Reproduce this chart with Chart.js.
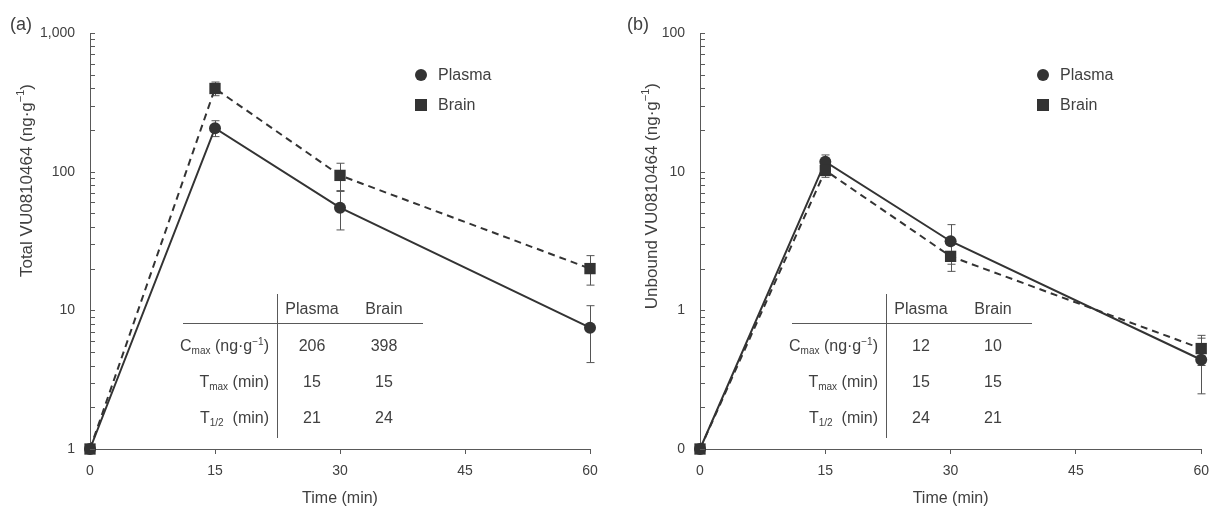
<!DOCTYPE html>
<html>
<head>
<meta charset="utf-8">
<script src="https://cdn.jsdelivr.net/npm/chart.js@4.4.1/dist/chart.umd.min.js"></script>
<style>
  body { margin: 0; background: #fff; font-family: "Liberation Sans", Arial, sans-serif; color: #404040; }
  #wrap { position: relative; width: 1218px; height: 508px; overflow: hidden; }
  .panel { position: absolute; top: 0; width: 609px; height: 508px; }
  .panel canvas { position: absolute; left: 0; top: 0; }
  .abs { position: absolute; white-space: nowrap; }
  .tag { font-size: 18px; line-height: 22px; }
  .ytitle { font-size: 17px; line-height: 20px; width: 20px; writing-mode: vertical-rl; transform: rotate(180deg); }
  .cell { font-size: 16px; line-height: 20px; height: 20px; }
  .cell sub, .cell sup { font-size: 10px; line-height: 0; }
  .cell sub { vertical-align: -3px; }
  .cell sup { vertical-align: 6px; }
  .hline { border-top: 1.5px solid #595959; height: 0; }
  .vline { border-left: 1.5px solid #595959; width: 0; }
  .lg { font-size: 16px; line-height: 20px; height: 20px; }
  .mk { position: absolute; width: 12px; height: 12px; background: #333; }
</style>
</head>
<body>
<div id="wrap">
  <div class="panel" id="panelA" style="left:0px"><canvas id="totalChart" width="609" height="508"></canvas></div>
  <div class="panel" id="panelB" style="left:609px"><canvas id="unboundChart" width="609" height="508"></canvas></div>
</div>
<script>
// time points (min)
const times = [0, 15, 30, 60];
const timeTicks = [0, 15, 30, 45, 60];

// (a) total concentrations, ng/g
const totalPlasma = [1, 206, 55, 7.5];
const totalPlasmaSd = [0, 27, 17, 3.3];
const totalBrain = [1, 398, 94, 20];
const totalBrainSd = [0, 45, 21, 4.8];
const totalTicks = [1, 10, 100, 1000];
const totalTickLabels = ["1", "10", "100", "1,000"];

// (b) unbound concentrations, ng/g
const unboundPlasma = [0.1, 11.8, 3.15, 0.44];
const unboundPlasmaSd = [0, 1.4, 1.0, 0.19];
const unboundBrain = [0.1, 10.2, 2.45, 0.53];
const unboundBrainSd = [0, 1.1, 0.54, 0.13];
const unboundTicks = [0.1, 1, 10, 100];
const unboundTickLabels = ["0", "1", "10", "100"];

// PK summary tables
const pkRows = ["C<sub>max</sub> (ng·g<sup>−1</sup>)", "T<sub>max</sub> (min)", "T<sub>1/2</sub>&nbsp; (min)"];
const totalPlasmaPk = [206, 15, 21];
const totalBrainPk = [398, 15, 24];
const unboundPlasmaPk = [12, 15, 24];
const unboundBrainPk = [10, 15, 21];

const textColor = "#404040";
const axisColor = "#595959";
const seriesColor = "#333333";

Chart.defaults.font.family = '"Liberation Sans", Arial, sans-serif';
Chart.defaults.color = textColor;

function pts(values) {
  return times.map((t, i) => ({ x: t, y: values[i] }));
}

// error bars, drawn under the markers
const errorBars = {
  id: "errorBars",
  beforeDatasetsDraw(chart) {
    const ctx = chart.ctx;
    const y = chart.scales.y;
    ctx.save();
    ctx.strokeStyle = "#555";
    ctx.lineWidth = 1;
    chart.data.datasets.forEach((ds, i) => {
      if (!ds.errors) return;
      const meta = chart.getDatasetMeta(i);
      ds.errors.forEach((e, j) => {
        if (!e) return;
        const v = ds.data[j].y;
        const px = Math.round(meta.data[j].x) + 0.5;
        const top = y.getPixelForValue(v + e);
        const bot = y.getPixelForValue(Math.max(v - e, y.min));
        ctx.beginPath();
        ctx.moveTo(px, top); ctx.lineTo(px, bot);
        ctx.moveTo(px - 4, top); ctx.lineTo(px + 4, top);
        ctx.moveTo(px - 4, bot); ctx.lineTo(px + 4, bot);
        ctx.stroke();
      });
    });
    ctx.restore();
  }
};

// inward log ticks on the y axis
const logTicks = {
  id: "logTicks",
  afterDraw(chart) {
    const ctx = chart.ctx;
    const y = chart.scales.y;
    const x0 = chart.chartArea.left;
    ctx.save();
    ctx.strokeStyle = axisColor;
    ctx.lineWidth = 1;
    ctx.beginPath();
    for (let d = y.min; d < y.max * 1.001; d *= 10) {
      for (let k = 1; k <= 9; k++) {
        const v = d * k;
        if (v > y.max * 1.001) break;
        const py = Math.round(y.getPixelForValue(v)) + 0.5;
        ctx.moveTo(x0, py);
        ctx.lineTo(x0 + 5, py);
      }
    }
    ctx.stroke();
    ctx.restore();
  }
};

function makeChart(id, plasma, plasmaSd, brain, brainSd, yMin, yMax, yTicks, yLabels, axisWidth, padRight) {
  return new Chart(document.getElementById(id), {
    type: "line",
    data: {
      datasets: [
        {
          label: "Plasma",
          data: pts(plasma),
          errors: plasmaSd,
          borderColor: seriesColor,
          backgroundColor: seriesColor,
          borderWidth: 2,
          pointStyle: "circle",
          pointRadius: 6,
          pointBorderWidth: 0,
          pointBackgroundColor: seriesColor,
          clip: false,
          order: 1,
        },
        {
          label: "Brain",
          data: pts(brain),
          errors: brainSd,
          borderColor: seriesColor,
          backgroundColor: seriesColor,
          borderWidth: 2,
          borderDash: [7, 5],
          pointStyle: "rect",
          pointRadius: 8,
          pointBorderWidth: 0,
          pointBackgroundColor: seriesColor,
          clip: false,
          order: 0,
        },
      ],
    },
    options: {
      responsive: false,
      animation: false,
      layout: { padding: { top: 33, right: padRight, bottom: 0, left: 0 } },
      plugins: { legend: { display: false }, tooltip: { enabled: false } },
      scales: {
        x: {
          type: "linear",
          min: 0,
          max: 60,
          afterBuildTicks: s => { s.ticks = timeTicks.map(v => ({ value: v })); },
          afterFit: s => { s.height = 59; },
          grid: { drawOnChartArea: false, drawTicks: true, tickLength: 5, color: axisColor },
          border: { color: axisColor, width: 1 },
          ticks: { font: { size: 14 }, color: textColor, padding: 9, maxRotation: 0 },
          title: { display: true, text: "Time (min)", font: { size: 16 }, color: textColor, padding: { top: 0, bottom: 0 } },
        },
        y: {
          type: "logarithmic",
          min: yMin,
          max: yMax,
          afterBuildTicks: s => { s.ticks = yTicks.map(v => ({ value: v })); },
          afterFit: s => { s.width = axisWidth; },
          grid: { display: false, drawTicks: false },
          border: { color: axisColor, width: 1 },
          ticks: {
            font: { size: 14 },
            color: textColor,
            padding: 15,
            autoSkip: false,
            callback: (v, i) => yLabels[i],
          },
        },
      },
    },
    plugins: [errorBars, logTicks],
  });
}

function addText(panel, cls, html, style) {
  const el = document.createElement("div");
  el.className = "abs " + cls;
  el.innerHTML = html;
  Object.assign(el.style, style);
  panel.appendChild(el);
  return el;
}

function addLegend(panel, chart, left) {
  [0, 1].forEach((i, row) => {
    const ds = chart.data.datasets[i];
    const cy = 75 + row * 30;
    const mk = document.createElement("div");
    mk.className = "mk";
    mk.style.left = left + "px";
    mk.style.top = (cy - 6) + "px";
    if (ds.pointStyle === "circle") mk.style.borderRadius = "50%";
    panel.appendChild(mk);
    addText(panel, "lg", ds.label, { left: (left + 23) + "px", top: (cy - 10) + "px" });
  });
}

function addTable(panel, plasmaPk, brainPk) {
  addText(panel, "vline", "", { left: "277px", top: "294px", height: "144px" });
  addText(panel, "hline", "", { left: "183px", top: "323px", width: "240px" });
  addText(panel, "cell", "Plasma", { left: "262px", width: "100px", textAlign: "center", top: "299px" });
  addText(panel, "cell", "Brain", { left: "334px", width: "100px", textAlign: "center", top: "299px" });
  pkRows.forEach((r, i) => {
    const top = (336 + i * 36) + "px";
    addText(panel, "cell", r, { left: "119px", width: "150px", textAlign: "right", top: top });
    addText(panel, "cell", String(plasmaPk[i]), { left: "262px", width: "100px", textAlign: "center", top: top });
    addText(panel, "cell", String(brainPk[i]), { left: "334px", width: "100px", textAlign: "center", top: top });
  });
}

const chartA = makeChart("totalChart", totalPlasma, totalPlasmaSd, totalBrain, totalBrainSd, 1, 1000, totalTicks, totalTickLabels, 90, 19);
const chartB = makeChart("unboundChart", unboundPlasma, unboundPlasmaSd, unboundBrain, unboundBrainSd, 0.1, 100, unboundTicks, unboundTickLabels, 91, 10);

const panelA = document.getElementById("panelA");
const panelB = document.getElementById("panelB");

addText(panelA, "tag", "(a)", { left: "10px", top: "13px" });
addText(panelB, "tag", "(b)", { left: "18px", top: "13px" });

addText(panelA, "ytitle", "Total VU0810464 (ng·g<sup style='font-size:11px'>−1</sup>)", { left: "10px", top: "84px" });
addText(panelB, "ytitle", "Unbound VU0810464 (ng·g<sup style='font-size:11px'>−1</sup>)", { left: "26px", top: "83px" });

addLegend(panelA, chartA, 415);
addLegend(panelB, chartB, 428);

addTable(panelA, totalPlasmaPk, totalBrainPk);
addTable(panelB, unboundPlasmaPk, unboundBrainPk);
</script>
</body>
</html>
